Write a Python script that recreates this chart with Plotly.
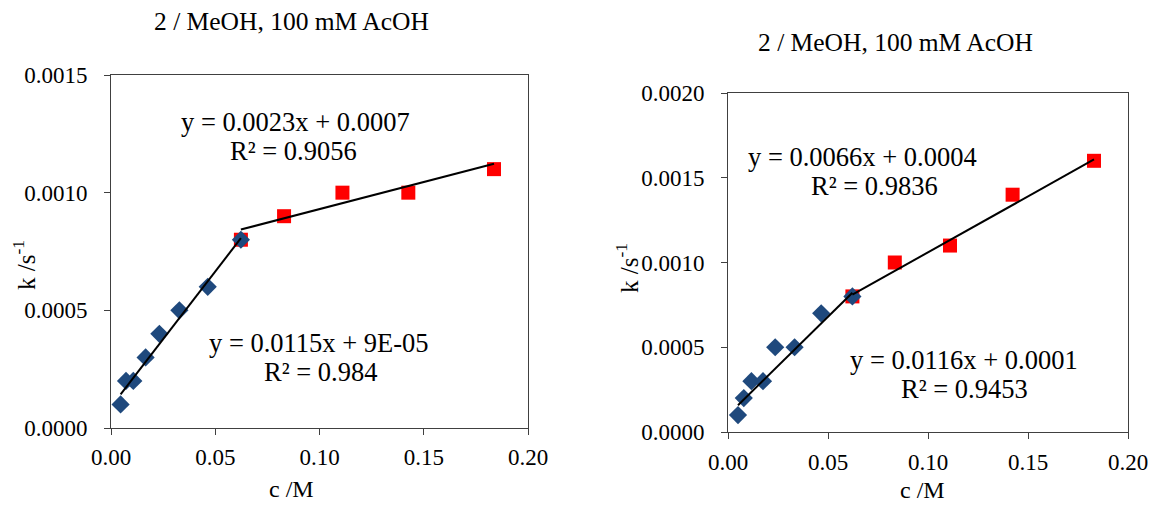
import plotly.graph_objects as go

# ---- data -----------------------------------------------------------
# concentration (M) for the low-concentration series (diamonds)
c_low_a = [0.0046, 0.0072, 0.0107, 0.0166, 0.0232, 0.0328, 0.0464, 0.0623]
k_low_a = [0.0001, 0.0002, 0.0002, 0.0003, 0.0004, 0.0005, 0.0006, 0.0008]
# high-concentration series (squares)
c_high_a = [0.0623, 0.0830, 0.1110, 0.1426, 0.1837]
k_high_a = [0.0008, 0.0009, 0.0010, 0.0010, 0.0011]

c_low_b = [0.0050, 0.0079, 0.0117, 0.0175, 0.0236, 0.0333, 0.0466, 0.0622]
k_low_b = [0.0001, 0.0002, 0.0003, 0.0003, 0.0005, 0.0005, 0.0007, 0.0008]
c_high_b = [0.0622, 0.0834, 0.1110, 0.1423, 0.1830]
k_high_b = [0.0008, 0.0010, 0.0011, 0.0014, 0.0016]

# linear fits: (slope, intercept, equation text, R^2 text)
fit_low_a = (0.0115, 9e-05, "y = 0.0115x + 9E-05", "R² = 0.984")
fit_high_a = (0.0023, 0.0007, "y = 0.0023x + 0.0007", "R² = 0.9056")
fit_low_b = (0.0116, 0.0001, "y = 0.0116x + 0.0001", "R² = 0.9453")
fit_high_b = (0.0066, 0.0004, "y = 0.0066x + 0.0004", "R² = 0.9836")

title_text = "2 / MeOH, 100 mM AcOH"
x_ticks = [0.00, 0.05, 0.10, 0.15, 0.20]
y_ticks_a = [0.0000, 0.0005, 0.0010, 0.0015]
y_ticks_b = [0.0000, 0.0005, 0.0010, 0.0015, 0.0020]

# ---- styling --------------------------------------------------------
FONT = "Liberation Serif, Times New Roman, serif"
BLUE = "#1F497D"
RED = "#FF0000"
W, H = 1153, 506

fig = go.Figure()


def add_panel(xa, ya, c_low, k_low, c_high, k_high, fit_low, fit_high):
    # squares underneath, diamonds on top, fit lines over the markers
    fig.add_trace(go.Scatter(x=c_high, y=k_high, mode="markers", xaxis=xa, yaxis=ya,
                             marker=dict(symbol="square", size=14, color=RED),
                             showlegend=False, hoverinfo="x+y"))
    fig.add_trace(go.Scatter(x=c_low, y=k_low, mode="markers", xaxis=xa, yaxis=ya,
                             marker=dict(symbol="diamond", size=14, color=BLUE),
                             showlegend=False, hoverinfo="x+y"))
    for cs, fit in ((c_low, fit_low), (c_high, fit_high)):
        xs = [min(cs), max(cs)]
        ys = [fit[0] * v + fit[1] for v in xs]
        fig.add_trace(go.Scatter(x=xs, y=ys, mode="lines", xaxis=xa, yaxis=ya,
                                 line=dict(color="black", width=2),
                                 showlegend=False, hoverinfo="skip"))


add_panel("x", "y", c_low_a, k_low_a, c_high_a, k_high_a, fit_low_a, fit_high_a)
add_panel("x2", "y2", c_low_b, k_low_b, c_high_b, k_high_b, fit_low_b, fit_high_b)

axis_common = dict(
    showgrid=False, zeroline=False, showline=True, linecolor="#404040", linewidth=1,
    mirror=True, ticks="outside", ticklen=6, tickcolor="#404040", automargin=False,
    tickfont=dict(family=FONT, size=23, color="black"),
)

fig.update_layout(
    width=W, height=H,
    margin=dict(l=0, r=0, t=0, b=0),
    paper_bgcolor="white", plot_bgcolor="white",
    xaxis=dict(domain=[111 / W, 528 / W], range=[0, 0.2], tickvals=x_ticks,
               tickformat=".2f", anchor="y", ticklabelstandoff=2, **axis_common),
    yaxis=dict(domain=[1 - 428 / H, 1 - 75 / H], range=[0, 0.0015], tickvals=y_ticks_a,
               tickformat=".4f", anchor="x", ticklabelstandoff=12, **axis_common),
    xaxis2=dict(domain=[728 / W, 1128 / W], range=[0, 0.2], tickvals=x_ticks,
                tickformat=".2f", anchor="y2", ticklabelstandoff=3, **axis_common),
    yaxis2=dict(domain=[1 - 432 / H, 1 - 93 / H], range=[0, 0.002], tickvals=y_ticks_b,
                tickformat=".4f", anchor="x2", ticklabelstandoff=12, **axis_common),
)


def text(x, y, s, size=26.5, angle=0):
    fig.add_annotation(x=x / W, y=1 - y / H, xref="paper", yref="paper", text=s,
                       showarrow=False, xanchor="center", yanchor="middle",
                       textangle=angle,
                       font=dict(family=FONT, size=size, color="black"))


# titles
text(291, 22, title_text, size=25.5)
text(895, 43, title_text, size=25.5)

# axis titles
text(291, 489, "c /M", size=24)
text(922, 490, "c /M", size=24)
text(24, 265, "k /s<sup>-1</sup>", size=25, angle=-90)
text(627, 268, "k /s<sup>-1</sup>", size=25, angle=-90)

# fit equations, left panel
text(295, 122, fit_high_a[2])
text(293, 151, fit_high_a[3])
text(319, 343, fit_low_a[2])
text(320, 372, fit_low_a[3])
# fit equations, right panel
text(862, 157, fit_high_b[2])
text(874, 186, fit_high_b[3])
text(964, 360, fit_low_b[2])
text(964, 389, fit_low_b[3])

fig.write_html("out.html")
